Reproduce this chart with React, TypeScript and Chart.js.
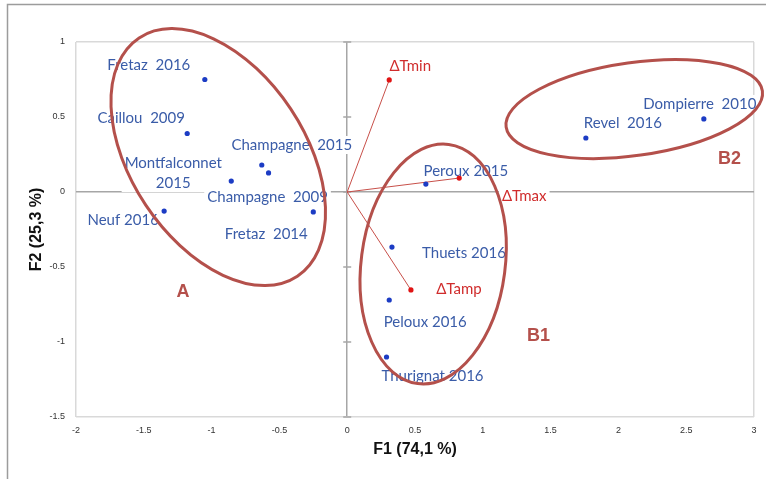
import React, { useEffect, useRef } from 'react';
import { Chart, registerables } from 'chart.js';

Chart.register(...registerables);

// ---- data ----
const sampleNames = [
  'Fretaz  2016', 'Caillou  2009', 'Champagne  2015', 'Montfalconnet\n2015',
  'Champagne  2009', 'Fretaz  2014', 'Neuf 2016', 'Peroux 2015', 'Revel  2016',
  'Dompierre  2010', 'Thuets 2016', 'Peloux 2016', 'Thurignat 2016',
];
const sampleF1 = [-1.05, -1.18, -0.63, -0.855, -0.58, -0.25, -1.35, 0.58, 1.76, 2.63, 0.33, 0.31, 0.29];
const sampleF2 = [0.75, 0.39, 0.18, 0.073, 0.127, -0.133, -0.127, 0.053, 0.36, 0.487, -0.367, -0.72, -1.1];

const varNames = ['ΔTmin', 'ΔTmax', 'ΔTamp'];
const varF1 = [0.31, 0.826, 0.47];
const varF2 = [0.747, 0.093, -0.653];

const groupNames = ['A', 'B1', 'B2'];
const groupLabelF1 = [-1.21, 1.41, 2.82];
const groupLabelF2 = [-0.667, -0.96, 0.22];

const xTitle = 'F1 (74,1 %)';
const yTitle = 'F2 (25,3 %)';

// ---- annotation geometry (pixels / styles) ----
const sampleLabelOffsets = [
  [-56, -14], [-46, -15], [30, -20], [-58, -8], [-1, 24], [-47, 22], [-41, 9],
  [40, -13], [37, -15], [-4, -15], [72, 6], [36, 22], [46, 19],
];
const varLabelOffsets = [[21, -14], [65, 18], [48, -1]];
// center in data units, semi-axes in px, rotation in degrees
const groupEllipseCenterF1 = [-0.951, 0.634, 2.117];
const groupEllipseCenterF2 = [0.233, -0.48, 0.553];
const groupEllipseAxes = [[143, 87, 56.4], [120.6, 72, -82.6], [129.4, 46.5, -8]];

const BLUE_TEXT = '#3a5ca8';
const BLUE_PT = '#1c3cc4';
const RED_TEXT = '#d02c2c';
const RED_LINE = '#c8504a';
const RED_PT = '#e01414';
const GROUP_COL = '#b4504b';
const LABEL_FONT = '15px Lato, "Liberation Sans", sans-serif';

function drawLabel(ctx: CanvasRenderingContext2D, text: string, cx: number, cy: number, color: string) {
  const lines = text.split('\n');
  const lh = 20;
  ctx.font = LABEL_FONT;
  ctx.textAlign = 'center';
  ctx.textBaseline = 'middle';
  const w = Math.max(...lines.map((l) => ctx.measureText(l).width));
  const h = lines.length * lh;
  ctx.fillStyle = '#ffffff';
  ctx.fillRect(cx - w / 2 - 3, cy - h / 2 + 1, w + 6, h - 2);
  ctx.fillStyle = color;
  lines.forEach((l, i) => {
    ctx.fillText(l, cx, cy - h / 2 + lh / 2 + i * lh);
  });
}

const annotationPlugin = {
  id: 'pcaAnnotations',
  beforeDraw(chart: any) {
    const ctx = chart.ctx as CanvasRenderingContext2D;
    ctx.save();
    ctx.fillStyle = '#ffffff';
    ctx.fillRect(0, 0, chart.width, chart.height);
    ctx.strokeStyle = '#9c9c9c';
    ctx.lineWidth = 1.5;
    ctx.beginPath();
    ctx.moveTo(7.5, chart.height);
    ctx.lineTo(7.5, 4.5);
    ctx.lineTo(chart.width, 4.5);
    ctx.stroke();
    ctx.restore();
  },
  beforeDatasetsDraw(chart: any) {
    const ctx = chart.ctx as CanvasRenderingContext2D;
    const xs = chart.scales.x;
    const ys = chart.scales.y;
    ctx.save();
    // small tick marks across the vertical zero axis
    const x0 = xs.getPixelForValue(0);
    ctx.strokeStyle = '#a6a6a6';
    ctx.lineWidth = 1.5;
    ys.ticks.forEach((t: any) => {
      const py = ys.getPixelForValue(t.value);
      ctx.beginPath();
      ctx.moveTo(x0 - 4, py);
      ctx.lineTo(x0 + 4, py);
      ctx.stroke();
    });
    // sample labels
    const meta = chart.getDatasetMeta(0);
    sampleNames.forEach((name, i) => {
      const el = meta.data[i];
      const [dx, dy] = sampleLabelOffsets[i];
      drawLabel(ctx, name, el.x + dx, el.y + dy, BLUE_TEXT);
    });
    // variable labels
    varNames.forEach((name, i) => {
      const el = chart.getDatasetMeta(1 + i).data[1];
      const [dx, dy] = varLabelOffsets[i];
      drawLabel(ctx, name, el.x + dx, el.y + dy, RED_TEXT);
    });
    ctx.restore();
  },
  afterDatasetsDraw(chart: any) {
    const ctx = chart.ctx as CanvasRenderingContext2D;
    const xs = chart.scales.x;
    const ys = chart.scales.y;
    ctx.save();
    ctx.strokeStyle = GROUP_COL;
    ctx.lineWidth = 3;
    groupNames.forEach((_, i) => {
      const cx = xs.getPixelForValue(groupEllipseCenterF1[i]);
      const cy = ys.getPixelForValue(groupEllipseCenterF2[i]);
      const [a, b, rot] = groupEllipseAxes[i];
      ctx.beginPath();
      ctx.ellipse(cx, cy, a, b, (rot * Math.PI) / 180, 0, Math.PI * 2);
      ctx.stroke();
    });
    ctx.fillStyle = GROUP_COL;
    ctx.font = 'bold 18px "Liberation Sans", Arial, sans-serif';
    ctx.textAlign = 'center';
    ctx.textBaseline = 'middle';
    groupNames.forEach((g, i) => {
      ctx.fillText(g, xs.getPixelForValue(groupLabelF1[i]), ys.getPixelForValue(groupLabelF2[i]));
    });
    ctx.restore();
  },
};

function gridColor(min: number, max: number) {
  return (c: any) => {
    const v = c.tick ? c.tick.value : null;
    if (v === 0) return '#a6a6a6';
    if (v === min || v === max) return '#d9d9d9';
    return 'rgba(0,0,0,0)';
  };
}

export default function App() {
  const ref = useRef<HTMLCanvasElement | null>(null);
  useEffect(() => {
    if (!ref.current) return;
    const samplePts = sampleF1.map((x, i) => ({ x, y: sampleF2[i] }));
    const vecSets = varNames.map((n, i) => ({
      label: n,
      data: [{ x: 0, y: 0 }, { x: varF1[i], y: varF2[i] }],
      showLine: true,
      borderColor: RED_LINE,
      borderWidth: 1,
      pointRadius: [0, 2.6],
      pointBackgroundColor: RED_PT,
      pointBorderWidth: 0,
    }));
    const tickFont = { family: '"Liberation Sans", Arial, sans-serif', size: 9 };
    const titleFont = { family: '"Liberation Sans", Arial, sans-serif', size: 16, weight: 'bold' as const };
    const chart = new Chart(ref.current, {
      type: 'scatter',
      data: {
        datasets: [
          {
            label: 'samples',
            data: samplePts,
            pointRadius: 2.6,
            pointBackgroundColor: BLUE_PT,
            pointBorderWidth: 0,
          },
          ...vecSets,
        ] as any,
      },
      options: {
        animation: false,
        responsive: false,
        devicePixelRatio: 1,
        layout: { padding: { top: 42, right: 12, left: 0, bottom: 0 } },
        plugins: { legend: { display: false }, tooltip: { enabled: false } },
        scales: {
          x: {
            type: 'linear',
            min: -2,
            max: 3,
            afterFit: (s: any) => { s.height = 62; },
            ticks: { stepSize: 0.5, font: tickFont, color: '#333333', padding: 8, autoSkip: false, maxRotation: 0, callback: (v: any) => String(v) },
            grid: { color: gridColor(-2, 3), lineWidth: 1.5, drawTicks: false },
            border: { display: false },
            title: { display: true, text: xTitle, font: titleFont, color: '#111111', padding: { top: 0, bottom: 20 } },
          },
          y: {
            type: 'linear',
            min: -1.5,
            max: 1,
            afterFit: (s: any) => { s.width = 76; },
            ticks: { stepSize: 0.5, font: tickFont, color: '#333333', padding: 11, autoSkip: false, callback: (v: any) => String(v) },
            grid: { color: gridColor(-1.5, 1), lineWidth: 1.5, drawTicks: false },
            border: { display: false },
            title: { display: true, text: yTitle, font: titleFont, color: '#111111', padding: { top: 27, bottom: 0 } },
          },
        },
      },
      plugins: [annotationPlugin],
    });
    return () => chart.destroy();
  }, []);
  return (
    <div style={{ position: 'fixed', left: 0, top: 0, width: 766, height: 479, background: '#fff' }}>
      <canvas ref={ref} width={766} height={479} style={{ width: 766, height: 479, display: 'block' }} />
    </div>
  );
}
